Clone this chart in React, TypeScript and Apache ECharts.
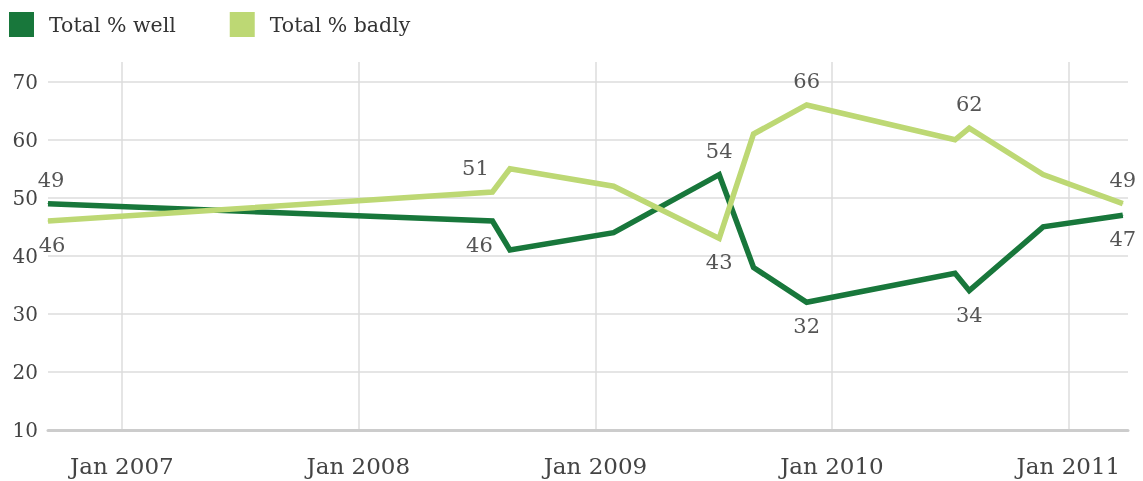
import { useEffect, useRef } from 'react';
import * as echarts from 'echarts';

// ---- data ----
const dates = [
  '2006-09-09', '2008-07-26', '2008-08-22', '2009-01-29', '2009-07-11',
  '2009-09-02', '2009-11-23', '2010-07-10', '2010-08-01', '2010-11-23', '2011-03-26',
];
const well = [49, 46, 41, 44, 54, 38, 32, 37, 34, 45, 47];
const badly = [46, 51, 55, 52, 43, 61, 66, 60, 62, 54, 49];
const yTickLabels = [10, 20, 30, 40, 50, 60, 70];
const xAxisStart = '2006-09-09';
const xAxisEnd = '2011-04-03';

// ---- label placement (style) ----
type LabelCfg = { pos: 'top' | 'bottom'; dx?: number };
const wellLabelCfg: Record<number, LabelCfg> = {
  0: { pos: 'top', dx: 3 },
  1: { pos: 'bottom', dx: -13 },
  4: { pos: 'top' },
  6: { pos: 'bottom' },
  8: { pos: 'bottom' },
  10: { pos: 'bottom' },
};
const badlyLabelCfg: Record<number, LabelCfg> = {
  0: { pos: 'bottom', dx: 4 },
  1: { pos: 'top', dx: -17 },
  4: { pos: 'bottom' },
  6: { pos: 'top' },
  8: { pos: 'top' },
  10: { pos: 'top' },
};

const DARK = '#18773b';
const LIGHT = '#bdd874';
const FONT = 'DejaVu Serif';

function buildData(values: number[], cfg: Record<number, LabelCfg>) {
  return dates.map((d, i) => {
    const c = cfg[i];
    return {
      value: [d, values[i]],
      label: c
        ? { show: true, position: c.pos, offset: [c.dx || 0, 0] }
        : { show: false },
    };
  });
}

export default function App() {
  const ref = useRef<HTMLDivElement>(null);
  useEffect(() => {
    if (!ref.current) return;
    const chart = echarts.init(ref.current, undefined, { renderer: 'svg' });
    const labelStyle = {
      color: '#555',
      fontFamily: FONT,
      fontSize: 21,
      distance: 13,
    };
    chart.setOption({
      animation: false,
      legend: {
        left: 9,
        top: 12,
        padding: 0,
        icon: 'rect',
        itemWidth: 25,
        itemHeight: 25,
        itemGap: 54,
        textStyle: {
          fontFamily: FONT,
          fontSize: 20.5,
          color: '#333',
          padding: [0, 0, 0, 10],
        },
        data: [
          { name: 'Total % well', itemStyle: { color: DARK } },
          { name: 'Total % badly', itemStyle: { color: LIGHT } },
        ],
      },
      grid: { left: 48, right: 15, top: 62, bottom: 51, containLabel: false },
      xAxis: {
        type: 'time',
        min: xAxisStart,
        max: xAxisEnd,
        minInterval: 365 * 24 * 3600 * 1000,
        axisLine: { show: true, lineStyle: { color: '#cccccc', width: 3 } },
        axisTick: { show: false },
        axisLabel: {
          fontFamily: FONT,
          fontSize: 23,
          color: '#444',
          margin: 24,
          showMinLabel: false,
          showMaxLabel: false,
          formatter: (v: number) => {
            const d = new Date(v);
            return d.getMonth() === 0 && d.getDate() === 1 ? 'Jan ' + d.getFullYear() : '';
          },
        },
        splitLine: {
          show: true,
          lineStyle: {
            color: ['transparent', '#dcdcdc', '#dcdcdc', '#dcdcdc', '#dcdcdc', '#dcdcdc', 'transparent'],
            width: 1.5,
          },
        },
      },
      yAxis: {
        type: 'value',
        min: 10,
        max: 73.4,
        interval: 10,
        axisLine: { show: false },
        axisTick: { show: false },
        axisLabel: {
          fontFamily: FONT,
          fontSize: 20,
          color: '#444',
          margin: 10,
          formatter: (v: number) => (yTickLabels.includes(v) ? String(v) : ''),
        },
        splitLine: {
          show: true,
          lineStyle: {
            color: ['#dcdcdc', '#dcdcdc', '#dcdcdc', '#dcdcdc', '#dcdcdc', '#dcdcdc', '#dcdcdc', 'transparent'],
            width: 1.5,
          },
        },
      },
      series: [
        {
          name: 'Total % well',
          type: 'line',
          data: buildData(well, wellLabelCfg),
          color: DARK,
          symbol: 'circle',
          symbolSize: 1,
          showSymbol: true,
          itemStyle: { color: DARK },
          lineStyle: { color: DARK, width: 5.5, join: 'miter' },
          label: labelStyle,
          emphasis: { disabled: true },
        },
        {
          name: 'Total % badly',
          type: 'line',
          data: buildData(badly, badlyLabelCfg),
          color: LIGHT,
          symbol: 'circle',
          symbolSize: 1,
          showSymbol: true,
          itemStyle: { color: LIGHT },
          lineStyle: { color: LIGHT, width: 5.5, join: 'miter' },
          label: labelStyle,
          emphasis: { disabled: true },
        },
      ],
    });
    return () => chart.dispose();
  }, []);
  return (
    <div
      ref={ref}
      style={{ position: 'fixed', left: 0, top: 0, width: 1143, height: 481 }}
    />
  );
}
